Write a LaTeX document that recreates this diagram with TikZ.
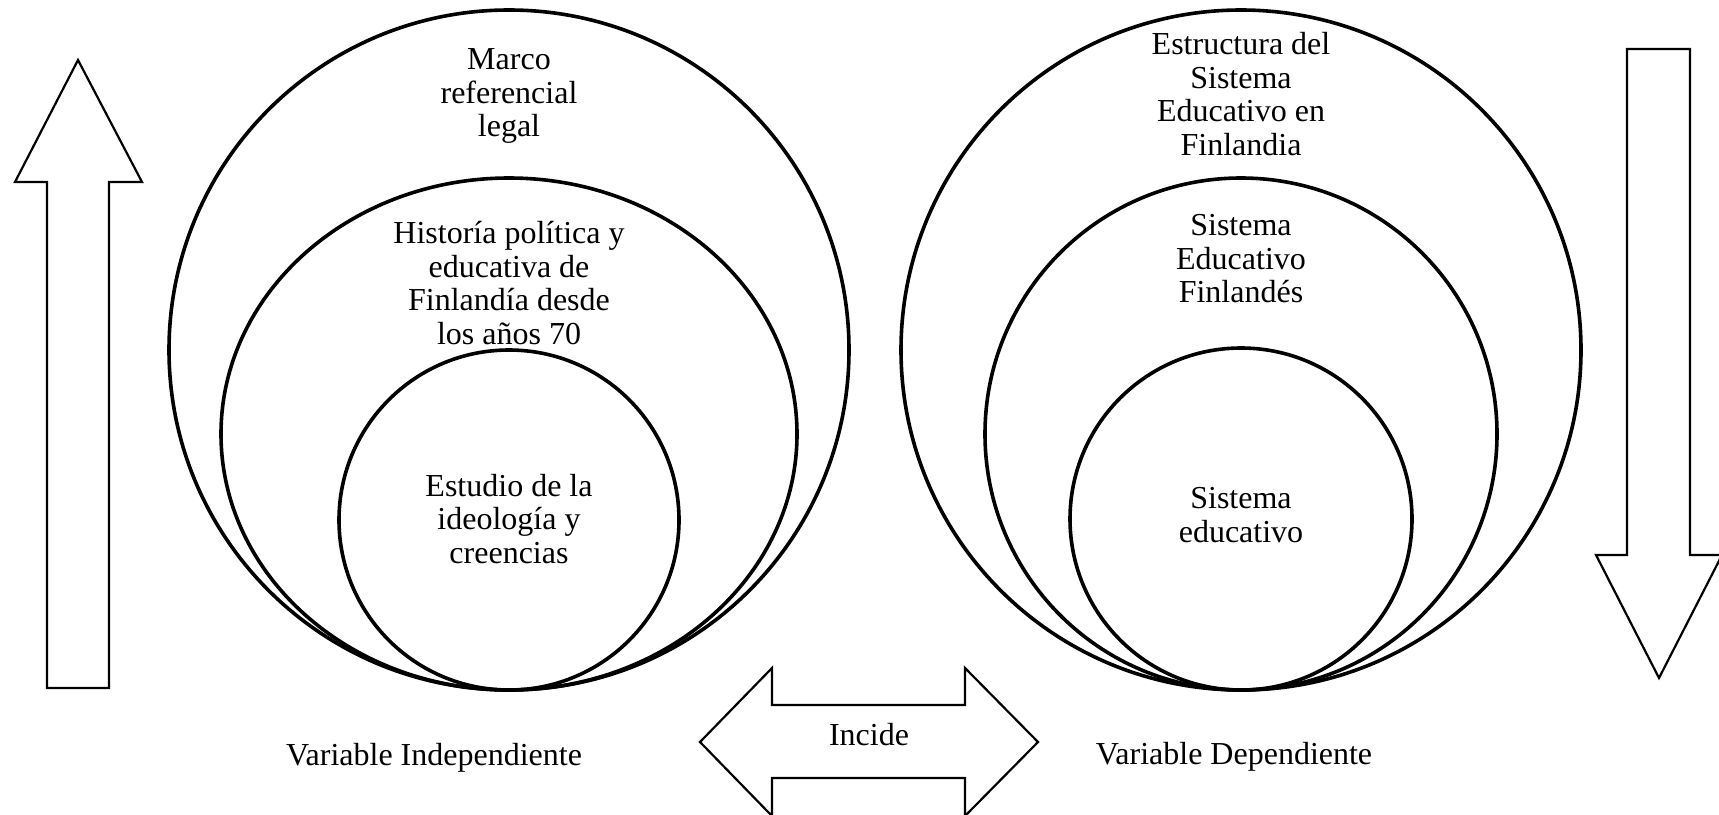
\documentclass[tikz,border=0pt]{standalone}
\usepackage{fontspec}
\setmainfont{Liberation Serif}
\usetikzlibrary{shapes,positioning}

\begin{document}
\begin{tikzpicture}[
        x=0.5pt, y=-0.5pt,
        every node/.style={align=center, font=\fontsize{16}{16.75}\selectfont},
        ring/.style={draw, circle, line width=1.8pt, inner sep=0pt},
        oval/.style={draw, ellipse, line width=1.8pt, inner sep=0pt},
        blockarrow/.style={draw, line width=1.1pt, line join=miter}
    ]
    \useasboundingbox (0,0) rectangle (1719,814);

    % Circles, left
    \node[ring, minimum size=340pt] (marco) at (509,350) {};
    \node[oval, minimum width=288pt, minimum height=256pt] (historia) at (509,434) {};
    \node[ring, minimum size=170pt] (ideologia) at (509,520) {};

    % Circles, right
    \node[ring, minimum size=340pt] (estructura) at (1241,350) {};
    \node[ring, minimum size=256pt] (sistemafin) at (1241,434) {};
    \node[ring, minimum size=171pt] (sistema) at (1241,519) {};

    % Texts
    \node (marcoT) at (509,96) {Marco\\referencial\\legal};
    \node (historiaT) at (509,283) {Historía política y\\educativa de\\Finlandía desde\\los años 70};
    \node (ideologiaT) at (509,519) {Estudio de la\\ideología y\\creencias};
    \node (estructuraT) at (1241,94) {Estructura del\\Sistema\\Educativo en\\Finlandia};
    \node (sistemafinT) at (1241,259) {Sistema\\Educativo\\Finlandés};
    \node (sistemaT) at (1241,515) {Sistema\\educativo};

    % Block arrows
    \draw[blockarrow] (47,688) -- (47,182) -- (15,182) -- (78,60) -- (142,182)
        -- (109,182) -- (109,688) -- cycle;
    \draw[blockarrow] (1627,49) -- (1627,555) -- (1596,555) -- (1659,678) -- (1722,555)
        -- (1690,555) -- (1690,49) -- cycle;
    \draw[blockarrow] (700,742) -- (772,668) -- (772,705) -- (965,705) -- (965,668)
        -- (1038,742) -- (965,816) -- (965,778) -- (772,778) -- (772,816) -- cycle;

    \node (incide) at (869,735) {Incide};
    \node (indep) at (434,758) {Variable Independiente};
    \node (dep) at (1234,757) {Variable Dependiente};

\end{tikzpicture}
\end{document}
